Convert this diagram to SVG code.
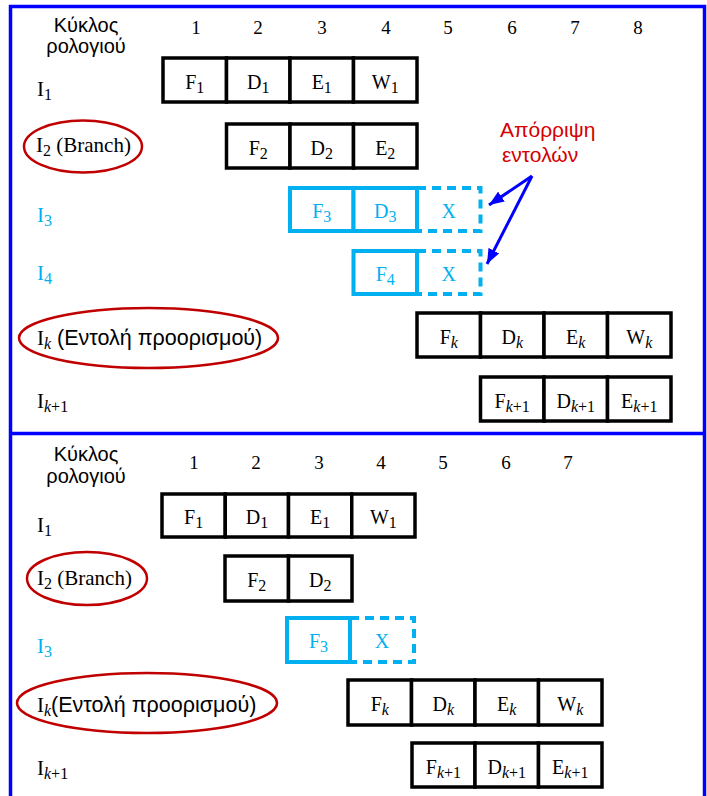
<svg xmlns="http://www.w3.org/2000/svg" width="707" height="796" viewBox="0 0 707 796">
<style>
.c{fill:#fff;stroke:#000;stroke-width:3.5}
.cc{fill:#fff;stroke:#00b0f0;stroke-width:4}
.dc{fill:none;stroke:#00b0f0;stroke-width:4;stroke-dasharray:9 6}
.t{font-family:"Liberation Serif","Times New Roman",serif;font-size:20px;text-anchor:middle;fill:#000}
.sub{font-size:16px}
.it{font-style:italic}
.lbl{font-family:"Liberation Serif","Times New Roman",serif;font-size:21px;fill:#000}
.gk{font-family:"Liberation Sans",Arial,sans-serif;font-size:21.5px;fill:#000}
.hd{font-family:"Liberation Sans",Arial,sans-serif;font-size:20px;text-anchor:middle;fill:#000}
.num{font-family:"Liberation Serif","Times New Roman",serif;font-size:19px;text-anchor:middle;fill:#000}
.ell{fill:none;stroke:#c00000;stroke-width:2.5}
.red{font-family:"Liberation Sans",Arial,sans-serif;font-size:21px;fill:#d40000}
.arr{stroke:#0000ff;stroke-width:3;fill:none}
text.cy{fill:#00b0f0}
</style>
<defs>
<marker id="ah" markerUnits="userSpaceOnUse" markerWidth="16" markerHeight="12" refX="15" refY="6" orient="auto">
<path d="M0,0 L15,6 L0,12 z" fill="#0000ff"/>
</marker>
</defs>
<rect width="707" height="796" fill="#fff"/>
<g id="frame">
<rect x="10.5" y="6.5" width="694" height="800" fill="none" stroke="#0000ff" stroke-width="3.5"/>
<line x1="10" y1="433.5" x2="705" y2="433.5" stroke="#0000ff" stroke-width="3.5"/>
</g>

<!-- TOP PANEL -->
<g id="top-header">
<text class="hd" x="86" y="32">Κύκλος</text>
<text class="hd" x="86" y="53">ρολογιού</text>
<text class="num" x="196" y="34">1</text>
<text class="num" x="258" y="34">2</text>
<text class="num" x="322" y="34">3</text>
<text class="num" x="386" y="34">4</text>
<text class="num" x="448" y="34">5</text>
<text class="num" x="512" y="34">6</text>
<text class="num" x="575" y="34">7</text>
<text class="num" x="638" y="34">8</text>
</g>
<g id="top-labels">
<text class="lbl" x="37" y="96">I<tspan class="sub" dy="4">1</tspan></text>
<ellipse class="ell" cx="83" cy="146.5" rx="59" ry="26"/>
<text class="lbl" x="36" y="152">I<tspan class="sub" dy="4">2</tspan><tspan dy="-4"> (Branch)</tspan></text>
<text class="lbl cy" x="37" y="222">I<tspan class="sub" dy="4">3</tspan></text>
<text class="lbl cy" x="37" y="280">I<tspan class="sub" dy="4">4</tspan></text>
<ellipse class="ell" cx="148.5" cy="338" rx="129.5" ry="30"/>
<text class="lbl" x="37" y="345">I<tspan class="sub it" dy="4">k</tspan><tspan class="gk" dy="-4"> (Εντολή προορισμού)</tspan></text>
<text class="lbl" x="37" y="408">I<tspan class="sub" dy="4"><tspan class="it">k</tspan>+1</tspan></text>
</g>
<g id="top-I1">
<rect class="c" x="163" y="58" width="63.5" height="44"/>
<rect class="c" x="226.5" y="58" width="63.5" height="44"/>
<rect class="c" x="290" y="58" width="63.5" height="44"/>
<rect class="c" x="353.5" y="58" width="63.5" height="44"/>
<text class="t" x="194.75" y="89">F<tspan class="sub" dy="4">1</tspan></text>
<text class="t" x="258.25" y="89">D<tspan class="sub" dy="4">1</tspan></text>
<text class="t" x="321.75" y="89">E<tspan class="sub" dy="4">1</tspan></text>
<text class="t" x="385.25" y="89">W<tspan class="sub" dy="4">1</tspan></text>
</g>
<g id="top-I2">
<rect class="c" x="226.5" y="124" width="63.5" height="44"/>
<rect class="c" x="290" y="124" width="63.5" height="44"/>
<rect class="c" x="353.5" y="124" width="63.5" height="44"/>
<text class="t" x="258.25" y="155">F<tspan class="sub" dy="4">2</tspan></text>
<text class="t" x="321.75" y="155">D<tspan class="sub" dy="4">2</tspan></text>
<text class="t" x="385.25" y="155">E<tspan class="sub" dy="4">2</tspan></text>
</g>
<g id="top-I3">
<path class="dc" d="M417,188 H480.5 V231 H417"/>
<rect class="cc" x="290" y="188" width="63.5" height="43"/>
<rect class="cc" x="353.5" y="188" width="63.5" height="43"/>
<text class="t cy" x="321.75" y="218">F<tspan class="sub" dy="4">3</tspan></text>
<text class="t cy" x="385.25" y="218">D<tspan class="sub" dy="4">3</tspan></text>
<text class="t cy" x="448.75" y="218">X</text>
</g>
<g id="top-I4">
<path class="dc" d="M417,251 H480.5 V294 H417"/>
<rect class="cc" x="353.5" y="251" width="63.5" height="43"/>
<text class="t cy" x="385.25" y="281">F<tspan class="sub" dy="4">4</tspan></text>
<text class="t cy" x="448.75" y="281">X</text>
</g>
<g id="top-Ik">
<rect class="c" x="417" y="313" width="63.5" height="44"/>
<rect class="c" x="480.5" y="313" width="63.5" height="44"/>
<rect class="c" x="544" y="313" width="63.5" height="44"/>
<rect class="c" x="607.5" y="313" width="63.5" height="44"/>
<text class="t" x="448.75" y="344">F<tspan class="sub it" dy="4">k</tspan></text>
<text class="t" x="512.25" y="344">D<tspan class="sub it" dy="4">k</tspan></text>
<text class="t" x="575.75" y="344">E<tspan class="sub it" dy="4">k</tspan></text>
<text class="t" x="639.25" y="344">W<tspan class="sub it" dy="4">k</tspan></text>
</g>
<g id="top-Ik1">
<rect class="c" x="480.5" y="377" width="63.5" height="44"/>
<rect class="c" x="544" y="377" width="63.5" height="44"/>
<rect class="c" x="607.5" y="377" width="63.5" height="44"/>
<text class="t" x="512.25" y="408">F<tspan class="sub" dy="4"><tspan class="it">k</tspan>+1</tspan></text>
<text class="t" x="575.75" y="408">D<tspan class="sub" dy="4"><tspan class="it">k</tspan>+1</tspan></text>
<text class="t" x="639.25" y="408">E<tspan class="sub" dy="4"><tspan class="it">k</tspan>+1</tspan></text>
</g>
<g id="discard-note">
<text class="red" x="500" y="137">Απόρριψη</text>
<text class="red" x="502" y="162">εντολών</text>
</g>
<g id="connectors">
<line class="arr" x1="532" y1="176" x2="489" y2="205" marker-end="url(#ah)"/>
<line class="arr" x1="532" y1="176" x2="487" y2="264" marker-end="url(#ah)"/>
</g>

<!-- BOTTOM PANEL -->
<g id="bot-header">
<text class="hd" x="86" y="461">Κύκλος</text>
<text class="hd" x="86" y="483">ρολογιού</text>
<text class="num" x="194" y="469">1</text>
<text class="num" x="256" y="469">2</text>
<text class="num" x="319" y="469">3</text>
<text class="num" x="381" y="469">4</text>
<text class="num" x="443" y="469">5</text>
<text class="num" x="506" y="469">6</text>
<text class="num" x="568" y="469">7</text>
</g>
<g id="bot-labels">
<text class="lbl" x="37" y="532">I<tspan class="sub" dy="4">1</tspan></text>
<ellipse class="ell" cx="87" cy="578.5" rx="60" ry="26.5"/>
<text class="lbl" x="37" y="585">I<tspan class="sub" dy="4">2</tspan><tspan dy="-4"> (Branch)</tspan></text>
<text class="lbl cy" x="37" y="653">I<tspan class="sub" dy="4">3</tspan></text>
<ellipse class="ell" cx="147" cy="703" rx="130" ry="30"/>
<text class="lbl" x="37" y="712">I<tspan class="sub it" dy="4">k</tspan><tspan class="gk" dy="-4">(Εντολή προορισμού)</tspan></text>
<text class="lbl" x="37" y="775">I<tspan class="sub" dy="4"><tspan class="it">k</tspan>+1</tspan></text>
</g>
<g id="bot-I1">
<rect class="c" x="162" y="494" width="63.25" height="43"/>
<rect class="c" x="225.25" y="494" width="63.25" height="43"/>
<rect class="c" x="288.5" y="494" width="63.25" height="43"/>
<rect class="c" x="351.75" y="494" width="63.25" height="43"/>
<text class="t" x="193.6" y="524">F<tspan class="sub" dy="4">1</tspan></text>
<text class="t" x="256.9" y="524">D<tspan class="sub" dy="4">1</tspan></text>
<text class="t" x="320.1" y="524">E<tspan class="sub" dy="4">1</tspan></text>
<text class="t" x="383.4" y="524">W<tspan class="sub" dy="4">1</tspan></text>
</g>
<g id="bot-I2">
<rect class="c" x="225" y="556" width="63.5" height="45"/>
<rect class="c" x="288.5" y="556" width="63.5" height="45"/>
<text class="t" x="256.75" y="587">F<tspan class="sub" dy="4">2</tspan></text>
<text class="t" x="320.25" y="587">D<tspan class="sub" dy="4">2</tspan></text>
</g>
<g id="bot-I3">
<path class="dc" d="M350,618 H414 V662 H350"/>
<rect class="cc" x="287" y="618" width="63" height="44"/>
<text class="t cy" x="318.5" y="648">F<tspan class="sub" dy="4">3</tspan></text>
<text class="t cy" x="382" y="648">X</text>
</g>
<g id="bot-Ik">
<rect class="c" x="348" y="680" width="63.5" height="45"/>
<rect class="c" x="411.5" y="680" width="63.5" height="45"/>
<rect class="c" x="475" y="680" width="63.5" height="45"/>
<rect class="c" x="538.5" y="680" width="63.5" height="45"/>
<text class="t" x="379.75" y="711">F<tspan class="sub it" dy="4">k</tspan></text>
<text class="t" x="443.25" y="711">D<tspan class="sub it" dy="4">k</tspan></text>
<text class="t" x="506.75" y="711">E<tspan class="sub it" dy="4">k</tspan></text>
<text class="t" x="570.25" y="711">W<tspan class="sub it" dy="4">k</tspan></text>
</g>
<g id="bot-Ik1">
<rect class="c" x="412" y="743" width="63" height="44"/>
<rect class="c" x="475" y="743" width="63.5" height="44"/>
<rect class="c" x="538.5" y="743" width="63.5" height="44"/>
<text class="t" x="443.5" y="774">F<tspan class="sub" dy="4"><tspan class="it">k</tspan>+1</tspan></text>
<text class="t" x="506.75" y="774">D<tspan class="sub" dy="4"><tspan class="it">k</tspan>+1</tspan></text>
<text class="t" x="570.25" y="774">E<tspan class="sub" dy="4"><tspan class="it">k</tspan>+1</tspan></text>
</g>
</svg>
